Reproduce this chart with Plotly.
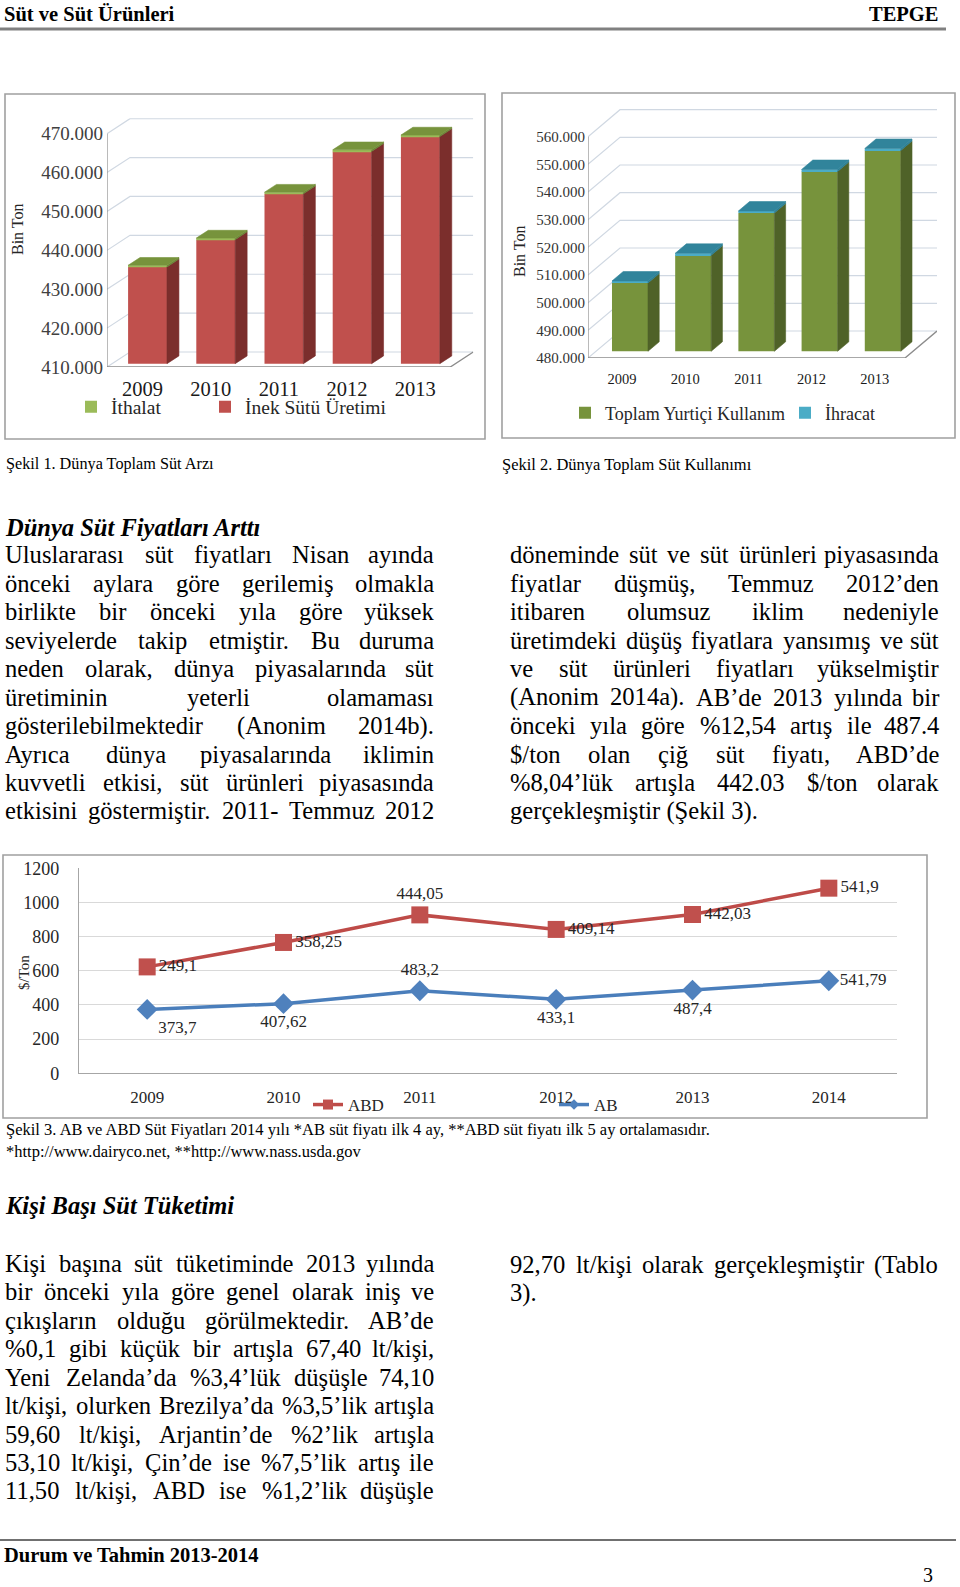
import plotly.graph_objects as go

# ---------------- data ----------------
years_5 = ["2009", "2010", "2011", "2012", "2013"]
inek_sutu_uretimi = [434.9, 441.9, 453.7, 464.6, 468.4]
ithalat = [0.4, 0.4, 0.4, 0.4, 0.4]
ticks_1 = [410, 420, 430, 440, 450, 460, 470]

yurtici_kullanim = [504.7, 514.7, 530.0, 545.0, 552.6]
ihracat = [0.7, 0.7, 0.7, 0.7, 0.7]
ticks_2 = [480, 490, 500, 510, 520, 530, 540, 550, 560]

years_6 = ["2009", "2010", "2011", "2012", "2013", "2014"]
ab_price = [373.7, 407.62, 483.2, 433.1, 487.4, 541.79]
abd_price = [249.1, 358.25, 444.05, 409.14, 442.03, 541.9]
ticks_3 = [0, 200, 400, 600, 800, 1000, 1200]

# ---------------- page helpers ----------------
PW, PH = 960, 1587
FONT = "Liberation Serif"


def px(x):
    return x / PW


def py(y):
    return 1 - y / PH


TNR = {' ': 250, '!': 333, '"': 408, '$': 500, '%': 833, '(': 333, ')': 333, '*': 500,
       ',': 250, '-': 333, '.': 250, '/': 278, ':': 278, ';': 278,
       'A': 722, 'B': 667, 'C': 667, 'D': 722, 'E': 611, 'F': 556, 'G': 722, 'H': 722,
       'I': 333, 'J': 389, 'K': 722, 'L': 611, 'M': 889, 'N': 722, 'O': 722, 'P': 556,
       'Q': 722, 'R': 667, 'S': 556, 'T': 611, 'U': 722, 'V': 722, 'W': 944, 'X': 722,
       'Y': 722, 'Z': 611,
       'a': 444, 'b': 500, 'c': 444, 'd': 500, 'e': 444, 'f': 333, 'g': 500, 'h': 500,
       'i': 278, 'j': 278, 'k': 500, 'l': 278, 'm': 778, 'n': 500, 'o': 500, 'p': 500,
       'q': 500, 'r': 333, 's': 389, 't': 278, 'u': 500, 'v': 500, 'w': 722, 'x': 500,
       'y': 500, 'z': 444,
       'ı': 278, 'ş': 389, 'ç': 444, 'ğ': 500, 'ö': 500, 'ü': 500, 'Ş': 556, 'Ç': 667,
       'İ': 333, 'Ü': 722, 'Ö': 722, 'Ğ': 722, '’': 333}


def units(s):
    return sum(TNR.get(ch, 500) for ch in s) / 1000.0


annotations = []


def add_text(text, x, y, size, xanchor='left', color='#000000', angle=0):
    annotations.append(dict(text=text, x=px(x), y=py(y), xref='paper', yref='paper',
                            xanchor=xanchor, yanchor='middle', showarrow=False,
                            borderpad=0, textangle=angle,
                            font=dict(family=FONT, size=size, color=color)))


BODY = 24.6
LINE_H = 28.45


def paragraph(lines, x0, x1, baseline0, justify_last=True):
    for k, line in enumerate(lines):
        yc = baseline0 + k * LINE_H - 0.34 * BODY
        words = line.split(' ')
        widths = [units(w) * BODY for w in words]
        last = (k == len(lines) - 1)
        if (not last or justify_last) and len(words) > 1:
            gap = (x1 - x0 - sum(widths)) / (len(words) - 1)
            x = x0
            for j, (w, wd) in enumerate(zip(words, widths)):
                if j == len(words) - 1:
                    add_text(w, x1, yc, BODY, xanchor='right')
                else:
                    add_text(w, x, yc, BODY)
                x += wd + gap
        else:
            add_text(line, x0, yc, BODY)


# ---------------- figure ----------------
fig = go.Figure()
shapes = []


def bars3d(xa, ya, base_val, series, ddx, ddy, f, d, w, top_color):
    """series[0] values are absolute bar tops; later series are stacked increments."""
    n = len(series[0]['values'])
    bottoms = [base_val] * n
    for k, s in enumerate(series):
        vals = s['values']
        if k == 0:
            tops = list(vals)
        else:
            tops = [b + v for b, v in zip(bottoms, vals)]
        fig.add_trace(go.Bar(x=[i + f * ddx for i in range(n)],
                             y=[t - b for t, b in zip(tops, bottoms)],
                             base=[b + f * ddy for b in bottoms], width=w,
                             marker=dict(color=s['front'], line=dict(width=0)),
                             name=s['name'], legend=s['legend'], showlegend=True,
                             xaxis=xa, yaxis=ya, hoverinfo='skip'))
        sx, sy = [], []
        for i in range(n):
            xr = i + f * ddx + w / 2
            yb = bottoms[i] + f * ddy
            yt = tops[i] + f * ddy
            sx += [xr, xr, xr + d * ddx, xr + d * ddx, xr, None]
            sy += [yb, yt, yt + d * ddy, yb + d * ddy, yb, None]
        fig.add_trace(go.Scatter(x=sx, y=sy, fill='toself', fillcolor=s['side'], mode='lines',
                                 line=dict(width=0.6, color=s['side']), hoverinfo='skip',
                                 showlegend=False, xaxis=xa, yaxis=ya))
        bottoms = tops
    tx, ty = [], []
    for i in range(n):
        xl = i + f * ddx - w / 2
        xr = i + f * ddx + w / 2
        yt = bottoms[i] + f * ddy
        tx += [xl, xr, xr + d * ddx, xl + d * ddx, xl, None]
        ty += [yt, yt, yt + d * ddy, yt + d * ddy, yt, None]
    fig.add_trace(go.Scatter(x=tx, y=ty, fill='toself', fillcolor=top_color, mode='lines',
                             line=dict(width=0.6, color=top_color), hoverinfo='skip',
                             showlegend=False, xaxis=xa, yaxis=ya))


def walls(xref, yref, ticks, xa0, xa1, ddx, ddy, grid_color, edge_color):
    for v in ticks:
        shapes.append(dict(type='path', xref=xref, yref=yref, layer='below',
                           path=f"M{xa0},{v} L{xa0 + ddx},{v + ddy} L{xa1},{v + ddy}",
                           line=dict(color=grid_color, width=1.2)))
    base = ticks[0]
    shapes.append(dict(type='path', xref=xref, yref=yref, layer='below',
                       path=f"M{xa0},{base} L{xa1 - ddx},{base} L{xa1},{base + ddy}",
                       line=dict(color=edge_color, width=1.4)))
    shapes.append(dict(type='path', xref=xref, yref=yref, layer='below',
                       path=f"M{xa0},{base} L{xa0},{ticks[-1]}",
                       line=dict(color=edge_color, width=1.2)))


# ---- chart 1 geometry ----
c1_x0px, c1_sp = 142.5, 68.2
c1_xa0, c1_xa1 = -0.52, 4.85
c1_ypx_bottom, c1_pxu = 367.0, 233.3 / 60
c1_ytop = 474.0
c1_ddx, c1_ddy = 23 / c1_sp, 15 / c1_pxu

bars3d('x', 'y', ticks_1[0], [
    dict(values=inek_sutu_uretimi, front='#C0504D', side='#7B2E2C', name='İnek Sütü Üretimi', legend='legend2'),
    dict(values=ithalat, front='#9BBB59', side='#6A8436', name='İthalat', legend='legend'),
], c1_ddx, c1_ddy, 0.22, 0.52, 0.57, '#77933C')
walls('x', 'y', ticks_1, c1_xa0, c1_xa1, c1_ddx, c1_ddy, '#D0D8E2', '#8C8C8C')

# ---- chart 2 geometry ----
c2_x0px, c2_sp = 622.0, 63.2
c2_xa0, c2_xa1 = (588 - c2_x0px) / c2_sp, (937 - c2_x0px) / c2_sp
c2_ypx_bottom, c2_pxu = 358.0, 221.3 / 80
c2_ytop = 480 + (358 - 105) / c2_pxu
c2_ddx, c2_ddy = 32 / c2_sp, 27 / c2_pxu

bars3d('x2', 'y2', ticks_2[0], [
    dict(values=yurtici_kullanim, front='#77933C', side='#4F6228', name='Toplam Yurtiçi Kullanım', legend='legend3'),
    dict(values=ihracat, front='#4BACC6', side='#2D7F94', name='İhracat', legend='legend4'),
], c2_ddx, c2_ddy, 0.25, 0.35, 0.57, '#31849B')
walls('x2', 'y2', ticks_2, c2_xa0, c2_xa1, c2_ddx, c2_ddy, '#D0D8E2', '#8C8C8C')

# ---- chart 3 ----
xi = list(range(len(years_6)))
abd_stacked = [a + b for a, b in zip(ab_price, abd_price)]
fmt = lambda v: str(v).replace('.', ',')
fig.add_trace(go.Scatter(x=xi, y=ab_price, mode='lines+markers+text', xaxis='x3', yaxis='y3',
                         line=dict(color='#4A7EBB', width=3.5),
                         marker=dict(symbol='diamond', size=16, color='#4F81BD'),
                         text=[fmt(v) for v in ab_price],
                         textposition=['bottom right', 'bottom center', 'top center',
                                       'bottom center', 'bottom center', 'middle right'],
                         textfont=dict(family=FONT, size=17, color='#262626'),
                         cliponaxis=False, showlegend=False, hoverinfo='skip'))
fig.add_trace(go.Scatter(x=xi, y=abd_stacked, mode='lines+markers+text', xaxis='x3', yaxis='y3',
                         line=dict(color='#BE4B48', width=3.5),
                         marker=dict(symbol='square', size=17, color='#C0504D'),
                         text=[fmt(v) for v in abd_price],
                         textposition=['middle right', 'middle right', 'top center',
                                       'middle right', 'middle right', 'middle right'],
                         textfont=dict(family=FONT, size=17, color='#262626'),
                         cliponaxis=False, showlegend=False, hoverinfo='skip'))
fig.add_trace(go.Scatter(x=[None], y=[None], mode='lines+markers', name='ABD', legend='legend5',
                         line=dict(color='#BE4B48', width=3.5),
                         marker=dict(symbol='square', size=10, color='#C0504D'),
                         xaxis='x3', yaxis='y3'))
fig.add_trace(go.Scatter(x=[None], y=[None], mode='lines+markers', name='AB', legend='legend6',
                         line=dict(color='#4A7EBB', width=3.5),
                         marker=dict(symbol='diamond', size=8, color='#4F81BD'),
                         xaxis='x3', yaxis='y3'))

# ---------------- frames / rules ----------------
for (x0, y0, x1, y1) in [(5, 94, 485, 439), (502, 93, 955, 438), (3, 855, 927, 1118)]:
    shapes.append(dict(type='rect', xref='paper', yref='paper', x0=px(x0), x1=px(x1),
                       y0=py(y1), y1=py(y0), line=dict(color='#A0A0A0', width=1.6)))
shapes.append(dict(type='line', xref='paper', yref='paper', x0=px(0), x1=px(946),
                   y0=py(29), y1=py(29), line=dict(color='#808080', width=3)))
shapes.append(dict(type='line', xref='paper', yref='paper', x0=px(0), x1=px(956),
                   y0=py(1540), y1=py(1540), line=dict(color='#404040', width=1.6)))

# ---------------- texts ----------------
add_text('<b>Süt ve Süt Ürünleri</b>', 3, 14, 20.5)
add_text('<b>TEPGE</b>', 940, 14, 20.5, xanchor='right')

cap1 = 'Şekil 1. Dünya Toplam Süt Arzı'
cap2 = 'Şekil 2. Dünya Toplam Süt Kullanımı'
add_text(cap1, 5, 464, 210 / units(cap1))
add_text(cap2, 501, 464, 251 / units(cap2))

add_text('Bin Ton', 18, 230, 16, xanchor='center', color='#262626', angle=-90)
add_text('Bin Ton', 520, 252, 16, xanchor='center', color='#262626', angle=-90)
add_text('$/Ton', 24, 973, 15, xanchor='center', color='#262626', angle=-90)

add_text('<b><i>Dünya Süt Fiyatları Arttı</i></b>', 4, 527, 24.5)

para1_left = [
    "Uluslararası süt fiyatları Nisan ayında",
    "önceki aylara göre gerilemiş olmakla",
    "birlikte bir önceki yıla göre yüksek",
    "seviyelerde takip etmiştir. Bu duruma",
    "neden olarak, dünya piyasalarında süt",
    "üretiminin yeterli olamaması",
    "gösterilebilmektedir (Anonim 2014b).",
    "Ayrıca dünya piyasalarında iklimin",
    "kuvvetli etkisi, süt ürünleri piyasasında",
    "etkisini göstermiştir. 2011- Temmuz 2012",
]
para1_right = [
    "döneminde süt ve süt ürünleri piyasasında",
    "fiyatlar düşmüş, Temmuz 2012’den",
    "itibaren olumsuz iklim nedeniyle",
    "üretimdeki düşüş fiyatlara yansımış ve süt",
    "ve süt ürünleri fiyatları yükselmiştir",
    "(Anonim 2014a). AB’de 2013 yılında bir",
    "önceki yıla göre %12,54 artış ile 487.4",
    "$/ton olan çiğ süt fiyatı, ABD’de",
    "%8,04’lük artışla 442.03 $/ton olarak",
    "gerçekleşmiştir (Şekil 3).",
]
paragraph(para1_left, 4, 435, 563.3)
paragraph(para1_right, 509, 940, 563.3, justify_last=False)

cap3a = 'Şekil 3. AB ve ABD Süt Fiyatları 2014 yılı *AB süt fiyatı ilk 4 ay, **ABD süt fiyatı ilk 5 ay ortalamasıdır.'
cap3b = '*http://www.dairyco.net, **http://www.nass.usda.gov'
s3 = 708 / units(cap3a)
add_text(cap3a, 5, 1129, s3)
add_text(cap3b, 5, 1151, s3)

add_text('<b><i>Kişi Başı Süt Tüketimi</i></b>', 4, 1205, 24.5)

para2_left = [
    "Kişi başına süt tüketiminde 2013 yılında",
    "bir önceki yıla göre genel olarak iniş ve",
    "çıkışların olduğu görülmektedir. AB’de",
    "%0,1 gibi küçük bir artışla 67,40 lt/kişi,",
    "Yeni Zelanda’da %3,4’lük düşüşle 74,10",
    "lt/kişi, olurken Brezilya’da %3,5’lik artışla",
    "59,60 lt/kişi, Arjantin’de %2’lik artışla",
    "53,10 lt/kişi, Çin’de ise %7,5’lik artış ile",
    "11,50 lt/kişi, ABD ise %1,2’lik düşüşle",
]
para2_right = [
    "92,70 lt/kişi olarak gerçekleşmiştir (Tablo",
    "3).",
]
paragraph(para2_left, 4, 435, 1271.7)
paragraph(para2_right, 509, 939, 1273.0, justify_last=False)

add_text('<b>Durum ve Tahmin 2013-2014</b>', 3, 1555, 20.5)
add_text('3', 934, 1575, 20, xanchor='right')


# ---------------- layout ----------------
def leg(xpix, ypix, size):
    return dict(x=px(xpix), y=py(ypix), xanchor='left', yanchor='middle',
                bgcolor='rgba(0,0,0,0)', borderwidth=0,
                font=dict(family=FONT, size=size, color='#262626'))


tickfont = lambda s, c='#262626': dict(family=FONT, size=s, color=c)

fig.update_layout(
    width=PW, height=PH, margin=dict(l=0, r=0, t=0, b=0, pad=0, autoexpand=False),
    paper_bgcolor='white', plot_bgcolor='rgba(0,0,0,0)',
    barmode='overlay', font=dict(family=FONT),
    xaxis=dict(domain=[px(107), px(c1_x0px + c1_sp * c1_xa1)], range=[c1_xa0, c1_xa1],
               anchor='y', tickvals=list(range(len(years_5))), ticktext=years_5,
               showgrid=False, zeroline=False, showline=False, ticks='',
               ticklabelstandoff=7, tickfont=tickfont(20.5, '#1a1a1a'), fixedrange=True),
    yaxis=dict(domain=[py(c1_ypx_bottom), py(c1_ypx_bottom - (c1_ytop - ticks_1[0]) * c1_pxu)],
               range=[ticks_1[0], c1_ytop], anchor='x',
               tickvals=ticks_1, ticktext=[f"{v}.000" for v in ticks_1],
               showgrid=False, zeroline=False, showline=False, ticks='',
               ticklabelstandoff=3, tickfont=tickfont(19, '#404040'), fixedrange=True),
    xaxis2=dict(domain=[px(588), px(937)], range=[c2_xa0, c2_xa1], anchor='y2',
                tickvals=list(range(len(years_5))), ticktext=years_5,
                showgrid=False, zeroline=False, showline=False, ticks='',
                ticklabelstandoff=10, tickfont=tickfont(14.5, '#1a1a1a'), fixedrange=True),
    yaxis2=dict(domain=[py(c2_ypx_bottom), py(105)], range=[ticks_2[0], c2_ytop], anchor='x2',
                tickvals=ticks_2, ticktext=[f"{v}.000" for v in ticks_2],
                showgrid=False, zeroline=False, showline=False, ticks='',
                ticklabelstandoff=2, tickfont=tickfont(15, '#333333'), fixedrange=True),
    xaxis3=dict(domain=[px(79), px(897)], range=[-0.5, len(years_6) - 0.5], anchor='y3',
                tickvals=xi, ticktext=years_6, showgrid=False, zeroline=False,
                showline=True, linecolor='#A6A6A6', linewidth=1.2, ticks='',
                ticklabelstandoff=8, tickfont=tickfont(17), fixedrange=True),
    yaxis3=dict(domain=[py(1073.3), py(868.3)], range=[0, 1200], anchor='x3',
                tickvals=ticks_3, showgrid=True, gridcolor='#D9D9D9', gridwidth=1,
                zeroline=False, showline=True, linecolor='#A6A6A6', linewidth=1.2, ticks='',
                ticklabelstandoff=15, tickfont=tickfont(18), fixedrange=True),
    legend=leg(71, 407, 19.5),
    legend2=leg(205, 407, 19.5),
    legend3=leg(565, 413, 18),
    legend4=leg(785, 413, 18),
    legend5=leg(308, 1105, 17),
    legend6=leg(554, 1105, 17),
    shapes=shapes,
    annotations=annotations,
)

fig.write_html("out.html", config={'displayModeBar': False},
               post_script="document.body.style.margin='0px';document.body.style.overflow='hidden';")
